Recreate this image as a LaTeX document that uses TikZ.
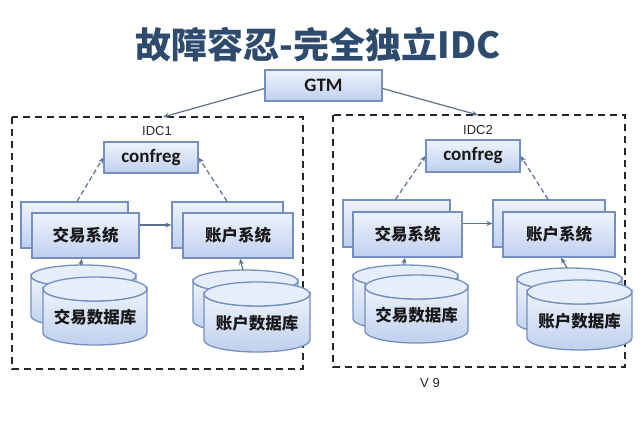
\documentclass[tikz,border=0pt]{standalone}
\usepackage{fontspec}
\setmainfont{Liberation Sans}
\newfontfamily\cjk{Noto Sans CJK SC}
\newfontfamily\lat{Carlito}
\usetikzlibrary{arrows.meta}
\definecolor{titleblue}{HTML}{2E4B6E}
\definecolor{boxborder}{HTML}{7590C0}
\definecolor{boxtop}{HTML}{EEF3FC}
\definecolor{boxbot}{HTML}{BFD0EE}
\definecolor{cyltop}{HTML}{E6EEFB}
\definecolor{arrowc}{HTML}{5E7090}
\tikzset{
  sysbox/.style={draw=boxborder, line width=1.3pt, top color=boxtop, bottom color=boxbot, inner sep=0pt},
  idcframe/.style={draw=black!85, line width=1.5pt, dash pattern=on 7pt off 5pt},
  boxtext/.style={font=\cjk\bfseries\fontsize{16.5}{16.5}\selectfont, text=black!90},
  lattext/.style={font=\lat\bfseries\fontsize{19}{19}\selectfont, text=black!90},
  conn/.style={draw=arrowc, line width=1.2pt, -{Stealth[length=6pt,width=5pt]}},
  dconn/.style={conn, dash pattern=on 5pt off 3pt},
  smalllabel/.style={font=\fontsize{13}{13}\selectfont, text=black!85}
}
% cylinder: name, x1, x2, ytop (top of ellipse), ybottom (bottom of body), ry
\newcommand\dbcyl[6]{%
  \pgfmathsetmacro\cx{(#2+#3)/2}%
  \pgfmathsetmacro\rx{(#3-#2)/2}%
  \pgfmathsetmacro\cyt{#4+#6}%
  \pgfmathsetmacro\cyb{#5-#6}%
  \path[draw=boxborder, line width=1.3pt, top color=boxtop, bottom color=boxbot]
    (#2,\cyt) -- (#2,\cyb) arc[start angle=180, end angle=0, x radius=\rx, y radius=#6]
    -- (#3,\cyt) arc[start angle=0, end angle=180, x radius=\rx, y radius=#6] -- cycle;
  \path[draw=boxborder, line width=1.3pt, fill=cyltop]
    (\cx,\cyt) ellipse[x radius=\rx, y radius=#6];
  \coordinate (#1) at (\cx,{(\cyt+#5)/2});
  \coordinate (#1top) at (\cx,#4);
}
\begin{document}
\begin{tikzpicture}[x=1pt,y=-1pt]
\useasboundingbox[fill=white] (0,0) rectangle (640,426);

% title
\node[font=\cjk\bfseries\fontsize{36}{36}\selectfont, text=titleblue] (title) at (318,45) {故障容忍-完全独立IDC};

% GTM
\node[sysbox, minimum width=117pt, minimum height=31pt] (gtm) at (323.5,85.5) {};
\node[lattext] at (gtm) {GTM};

% IDC frames
\draw[idcframe] (12,117) rectangle (303,369);
\draw[idcframe] (333,115) rectangle (625,367);
\coordinate (idc1top) at (163,117);
\coordinate (idc2top) at (478,115);
\node[smalllabel] (idc1lbl) at (157,131) {IDC1};
\node[smalllabel] (idc2lbl) at (478,130) {IDC2};
\node[smalllabel] (ver) at (430,383) {V 9};

\draw[conn] ([yshift=-3pt]gtm.west) -- (idc1top);
\draw[conn] ([yshift=-3pt]gtm.east) -- (idc2top);

% ---------- IDC1 ----------
\node[sysbox, minimum width=94pt, minimum height=31pt] (confreg1) at (151,157.5) {};
\node[lattext] at (confreg1) {confreg};
\node[sysbox, minimum width=107pt, minimum height=46pt] (tradeback1) at (74.5,225) {};
\node[sysbox, minimum width=107pt, minimum height=45pt] (tradefront1) at (85.5,235.5) {};
\node[boxtext] at (tradefront1) {交易系统};
\node[sysbox, minimum width=111pt, minimum height=46pt] (accback1) at (227.5,225) {};
\node[sysbox, minimum width=110pt, minimum height=45pt] (accfront1) at (238,235.5) {};
\node[boxtext] at (accfront1) {账户系统};

\dbcyl{tdbback1}{31}{136}{265}{327}{11}
\dbcyl{tdb1}{43}{147}{277}{345}{12}
\node[boxtext] (tdb1lbl) at (tdb1) {交易数据库};
\dbcyl{adbback1}{193}{298}{270}{332}{11}
\dbcyl{adb1}{204}{310}{282}{352}{12}
\node[boxtext] (adb1lbl) at (adb1) {账户数据库};

\draw[dconn] ([xshift=2.5pt]tradeback1.north) -- (confreg1.west);
\draw[dconn] ([xshift=-0.5pt]accback1.north) -- (confreg1.east);
\draw[conn] ([yshift=10.5pt]tradefront1.east) -- (accback1.west);
\draw[conn] ([xshift=-3pt]tdbback1top) -- ([xshift=-3.5pt]tradefront1.south);
\draw[conn] ([xshift=-2.5pt]adbback1top) -- ([xshift=2pt]accfront1.south);

% ---------- IDC2 ----------
\node[sysbox, minimum width=94pt, minimum height=32pt] (confreg2) at (473,156) {};
\node[lattext] at (confreg2) {confreg};
\node[sysbox, minimum width=107pt, minimum height=47pt] (tradeback2) at (396.5,223.5) {};
\node[sysbox, minimum width=109pt, minimum height=45pt] (tradefront2) at (407.5,234.5) {};
\node[boxtext] at (tradefront2) {交易系统};
\node[sysbox, minimum width=112pt, minimum height=47pt] (accback2) at (549,223.5) {};
\node[sysbox, minimum width=112pt, minimum height=45pt] (accfront2) at (559,234.5) {};
\node[boxtext] at (accfront2) {账户系统};

\dbcyl{tdbback2}{353}{458}{265}{330}{11}
\dbcyl{tdb2}{365}{468}{275}{343}{12}
\node[boxtext] (tdb2lbl) at (tdb2) {交易数据库};
\dbcyl{adbback2}{517}{622}{268}{334}{11}
\dbcyl{adb2}{527}{632}{280}{350}{12}
\node[boxtext] (adb2lbl) at (adb2) {账户数据库};

\draw[dconn] ([xshift=-1pt]tradeback2.north) -- (confreg2.west);
\draw[dconn] ([xshift=-1pt]accback2.north) -- (confreg2.east);
\draw[conn] ([yshift=11pt]tradefront2.east) -- (accback2.west);
\draw[conn] ([xshift=-2pt]tdbback2top) -- ([xshift=-2.5pt]tradefront2.south);
\draw[conn] ([xshift=-2.5pt]adbback2top) -- ([xshift=2pt]accfront2.south);
\end{tikzpicture}
\end{document}
